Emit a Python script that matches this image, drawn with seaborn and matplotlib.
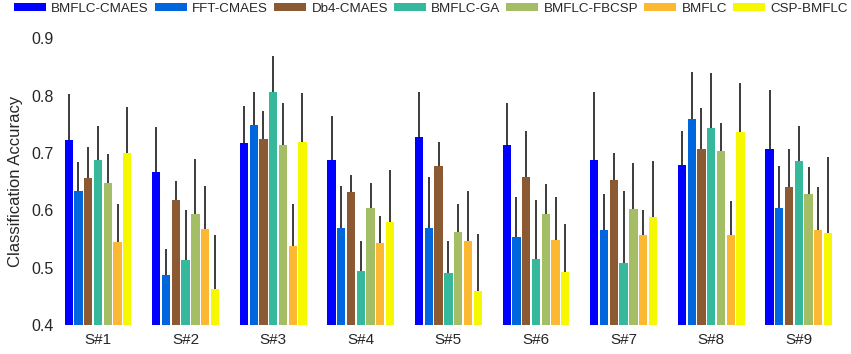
import pandas as pd
import matplotlib
matplotlib.use("Agg")
import matplotlib.pyplot as plt
import seaborn as sns
from matplotlib.patches import Patch

# subjects and methods
subjects = ["S#1", "S#2", "S#3", "S#4", "S#5", "S#6", "S#7", "S#8", "S#9"]
methods = ["BMFLC-CMAES", "FFT-CMAES", "Db4-CMAES", "BMFLC-GA",
           "BMFLC-FBCSP", "BMFLC", "CSP-BMFLC"]
colors = ["#0000FF", "#0066DD", "#8B5A33", "#35B89B",
          "#A3BE64", "#FDB833", "#F7F700"]

# mean accuracy per method (one value per subject)
bmflc_cmaes = [0.722, 0.667, 0.717, 0.688, 0.728, 0.715, 0.688, 0.679, 0.707]
fft_cmaes   = [0.633, 0.488, 0.749, 0.569, 0.569, 0.553, 0.565, 0.760, 0.604]
db4_cmaes   = [0.657, 0.618, 0.724, 0.632, 0.677, 0.659, 0.653, 0.708, 0.641]
bmflc_ga    = [0.688, 0.513, 0.807, 0.494, 0.490, 0.515, 0.509, 0.744, 0.687]
bmflc_fbcsp = [0.647, 0.594, 0.714, 0.605, 0.563, 0.594, 0.602, 0.704, 0.629]
bmflc       = [0.545, 0.567, 0.538, 0.543, 0.546, 0.548, 0.557, 0.557, 0.566]
csp_bmflc   = [0.700, 0.462, 0.719, 0.580, 0.459, 0.493, 0.588, 0.737, 0.561]

# standard deviation (upper error bar)
bmflc_cmaes_sd = [0.082, 0.079, 0.065, 0.076, 0.079, 0.072, 0.119, 0.059, 0.103]
fft_cmaes_sd   = [0.051, 0.045, 0.057, 0.074, 0.089, 0.070, 0.063, 0.082, 0.073]
db4_cmaes_sd   = [0.054, 0.034, 0.050, 0.029, 0.042, 0.080, 0.048, 0.071, 0.066]
bmflc_ga_sd    = [0.059, 0.088, 0.062, 0.052, 0.056, 0.104, 0.124, 0.095, 0.060]
bmflc_fbcsp_sd = [0.052, 0.096, 0.073, 0.042, 0.048, 0.052, 0.081, 0.049, 0.046]
bmflc_sd       = [0.066, 0.076, 0.073, 0.047, 0.087, 0.075, 0.044, 0.059, 0.074]
csp_bmflc_sd   = [0.080, 0.095, 0.086, 0.090, 0.100, 0.083, 0.099, 0.085, 0.132]

means = [bmflc_cmaes, fft_cmaes, db4_cmaes, bmflc_ga, bmflc_fbcsp, bmflc, csp_bmflc]
sds = [bmflc_cmaes_sd, fft_cmaes_sd, db4_cmaes_sd, bmflc_ga_sd,
       bmflc_fbcsp_sd, bmflc_sd, csp_bmflc_sd]

rows = []
for m, vals, errs in zip(methods, means, sds):
    for s, v, e in zip(subjects, vals, errs):
        rows.append({"subject": s, "method": m, "acc": v, "sd": e})
df = pd.DataFrame(rows)

sns.set_style("white")
plt.rcParams["font.family"] = ["Liberation Sans", "DejaVu Sans"]

fig = plt.figure(figsize=(8.51, 3.54), dpi=100)
ax = fig.add_axes([62 / 851, 29 / 354, 778 / 851, 286.5 / 354])

sns.barplot(data=df, x="subject", y="acc", hue="method", hue_order=methods,
            order=subjects, palette=colors, saturation=1, width=0.78, gap=0.15,
            errorbar=None, legend=False, ax=ax, linewidth=0)

# upper-only error bars at the drawn bar centres
for cont, m in zip(ax.containers, methods):
    sub = df[df.method == m].set_index("subject").loc[subjects]
    bars = sorted(cont.patches, key=lambda p: p.get_x())
    xs = [b.get_x() + b.get_width() / 2 for b in bars]
    ax.errorbar(xs, sub["acc"].values, yerr=[[0] * len(xs), sub["sd"].values],
                fmt="none", ecolor="#1a1a1a", elinewidth=1.2, capsize=0, zorder=1)

ax.set_ylim(0.4, 0.9)
ax.set_xlim((62 - 98) / 87.6, (840 - 98) / 87.6)
ax.set_yticks([0.4, 0.5, 0.6, 0.7, 0.8, 0.9])
ax.set_yticklabels(["0.4", "0.5", "0.6", "0.7", "0.8", "0.9"])
ax.tick_params(axis="y", length=0, pad=6, labelsize=11.5)
ax.tick_params(axis="x", length=0, pad=6, labelsize=11)
ax.set_xlabel("")
ax.set_ylabel("Classification Accuracy", fontsize=12, labelpad=6)
sns.despine(ax=ax, left=True, bottom=True)

handles = [Patch(facecolor=c, edgecolor="none") for c in colors]
fig.legend(handles, methods, loc="upper center", bbox_to_anchor=(431 / 851, 1.0),
           ncol=7, frameon=False, fontsize=9.6, handlelength=2.4,
           handleheight=0.5, handletextpad=0.4, columnspacing=0.45,
           borderaxespad=0.1, borderpad=0.1)

plt.savefig("out.png", dpi=100)
